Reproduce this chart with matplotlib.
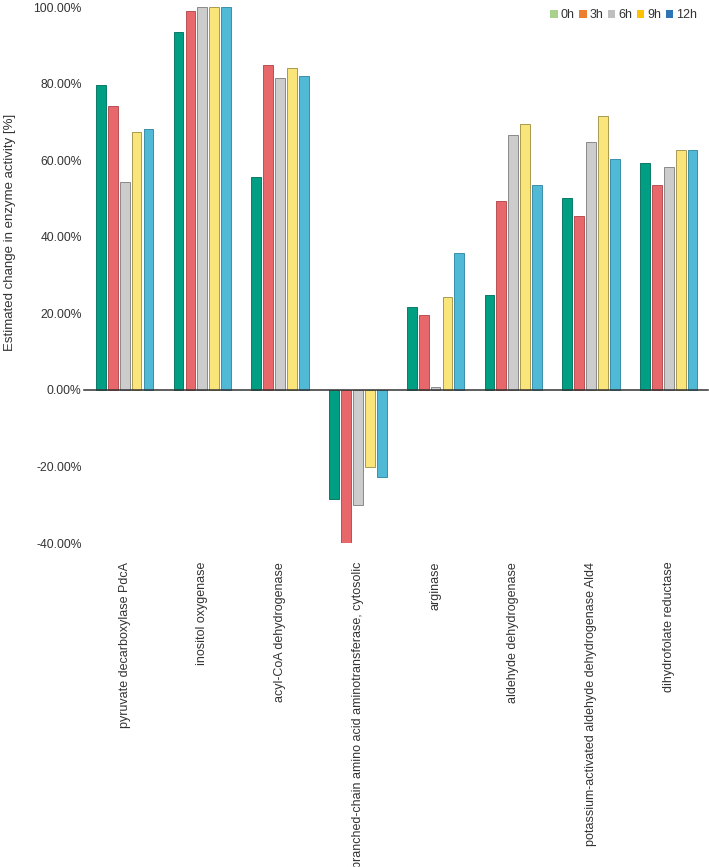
import matplotlib.pyplot as plt
import matplotlib.ticker as mticker
from matplotlib.patches import Patch
import numpy as np

plt.rcParams['font.family'] = ['Liberation Sans', 'DejaVu Sans']

enzymes = [
    'pyruvate decarboxylase PdcA',
    'inositol oxygenase',
    'acyl-CoA dehydrogenase',
    'branched-chain amino acid aminotransferase, cytosolic',
    'arginase',
    'aldehyde dehydrogenase',
    'potassium-activated aldehyde dehydrogenase Ald4',
    'dihydrofolate reductase',
]
times = ['0h', '3h', '6h', '9h', '12h']

h0 = [79.6, 93.6, 55.6, -28.5, 21.7, 24.7, 50.1, 59.3]
h3 = [74.2, 99.0, 84.8, -40.1, 19.6, 49.3, 45.4, 53.5]
h6 = [54.2, 100.0, 81.5, -30.0, 0.7, 66.5, 64.8, 58.1]
h9 = [67.3, 100.0, 84.2, -20.2, 24.3, 69.5, 71.5, 62.7]
h12 = [68.1, 100.0, 81.9, -22.7, 35.8, 53.5, 60.3, 62.7]

series = [h0, h3, h6, h9, h12]
bar_colors = ['#009e83', '#e8676a', '#cccccc', '#f9e57a', '#4fb9d6']
edge_colors = ['#0b7a66', '#b85052', '#8a8a8a', '#a89a50', '#3a8fab']
legend_colors = ['#a9d18e', '#ed7d31', '#bfbfbf', '#ffc000', '#2e75b6']
text_color = '#333333'

fig = plt.figure(figsize=(7.09, 8.67), dpi=100)
ax = fig.add_axes([0.121, 0.3737, 0.877, 0.6182])

x = np.arange(len(enzymes))
step = 0.153
width = 0.126
for i, vals in enumerate(series):
    ax.bar(x + (i - 2) * step, vals, width=width, color=bar_colors[i],
           edgecolor=edge_colors[i], linewidth=0.7)

# zero baseline, with a short tick sticking out on the left
ax.axhline(0, xmin=-0.003, color='#333333', linewidth=1.1, zorder=5, clip_on=False)
ax.set_xlim(-0.5, len(enzymes) - 0.5)
ax.set_ylim(-40, 100)
ax.set_yticks(np.arange(-40, 101, 20))
ax.yaxis.set_major_formatter(mticker.FuncFormatter(lambda v, p: '%.2f%%' % v))
ax.tick_params(axis='y', length=0, pad=3, labelsize=8.7, labelcolor=text_color)
ax.set_xticks(x)
ax.set_xticklabels(enzymes, rotation=90, fontsize=9, color=text_color)
ax.tick_params(axis='x', length=0, pad=13.5)
for s in ax.spines.values():
    s.set_visible(False)

fig.text(0.014, 0.732, 'Estimated change in enzyme activity [%]', rotation=90,
         ha='center', va='center', fontsize=9.5, color=text_color)

handles = [Patch(facecolor=c, edgecolor='none') for c in legend_colors]
ax.legend(handles, times, loc='upper right', bbox_to_anchor=(0.995, 1.01), ncol=5,
          frameon=False, fontsize=9, handlelength=0.6, handleheight=0.6,
          handletextpad=0.2, columnspacing=0.4, borderaxespad=0.2,
          labelcolor=text_color)

fig.savefig('out.png', dpi=100)
